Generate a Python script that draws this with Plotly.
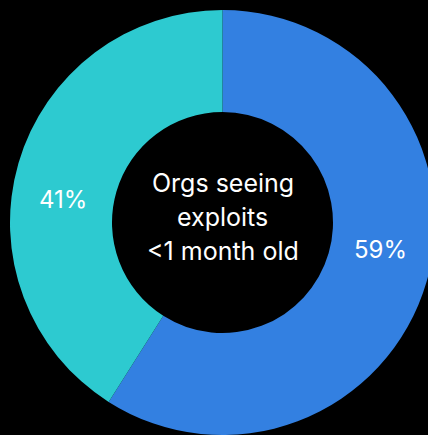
import plotly.graph_objects as go

# Share of organisations by age of the exploits they see
labels = ["<1 month old", "Older"]
shares = [59, 41]
colors = ["#3380E1", "#2DCAD0"]
center_lines = ["Orgs seeing", "exploits", "<1 month old"]

# Pixel geometry of the figure (plot area is a 425 px square with a 10 px margin)
W, H, M = 445, 445, 10
SIDE = W - 2 * M


def px_to_paper(x_px, y_px):
    return (x_px - M) / SIDE, 1 - (y_px - M) / SIDE


fig = go.Figure(
    go.Pie(
        labels=labels,
        values=shares,
        hole=0.52,
        sort=False,
        direction="clockwise",
        rotation=0,
        marker=dict(colors=colors, line=dict(width=0)),
        textinfo="none",
        showlegend=False,
        hoverinfo="label+percent",
    )
)

label_font = dict(family="Inter", size=24, color="white")
center_font = dict(family="Inter", size=25, color="white")

# Percentage labels sitting in the ring
label_pos = [(380, 249), (63, 200)]
for value, (lx, ly) in zip(shares, label_pos):
    px, py = px_to_paper(lx, ly)
    fig.add_annotation(
        x=px, y=py, xref="paper", yref="paper",
        text=f"{value}%", showarrow=False, font=label_font,
        xanchor="center", yanchor="middle",
    )

# Caption in the hole, one annotation per line
line_y = [183, 217, 251]
for line, ly in zip(center_lines, line_y):
    px, py = px_to_paper(222.5, ly)
    fig.add_annotation(
        x=px, y=py, xref="paper", yref="paper",
        text=line, showarrow=False, font=center_font,
        xanchor="center", yanchor="middle",
    )

fig.update_layout(
    width=W,
    height=H,
    margin=dict(l=M, r=M, t=M, b=M),
    paper_bgcolor="black",
    plot_bgcolor="black",
)

fig.write_html(
    "out.html",
    post_script="document.documentElement.style.overflow='hidden';"
                "document.body.style.overflow='hidden';"
                "document.body.style.margin='0';"
                "document.body.style.background='black';",
)
